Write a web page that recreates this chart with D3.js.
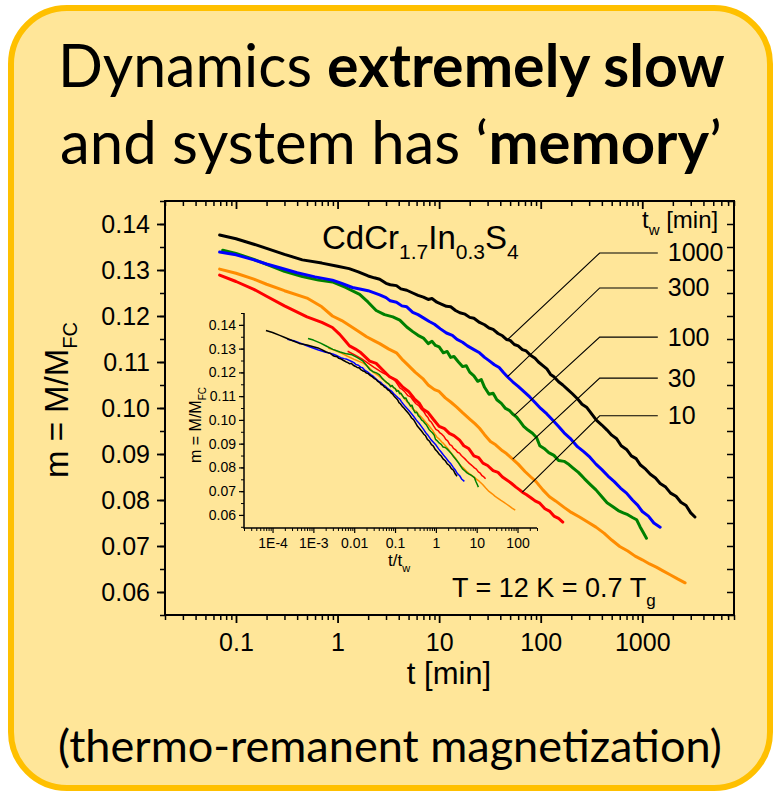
<!DOCTYPE html>
<html>
<head>
<meta charset="utf-8">
<script src="https://cdn.jsdelivr.net/npm/d3@7/dist/d3.min.js"></script>
<style>
  html, body { margin: 0; padding: 0; background: #ffffff; }
  svg { display: block; }
</style>
</head>
<body>
<script>
// ---- Data: thermo-remanent magnetization decay m(t) for several waiting times ----
const waitTimes = [1000, 300, 100, 30, 10];           // t_w [min]
const seriesColors = ["#000000", "#0000ff", "#008000", "#ff8c00", "#ff0000"];

// [t (min), m = M/M_FC]
const decayTw1000 = [
  [0.069,.1376],[0.1,.1368],[0.15,.1356],[0.2,.1347],[0.3,.1334],[0.45,.1322],[0.7,.1315],[1.0,.1308],
  [1.3,.1303],[1.6,.1296],[2.0,.1287],[2.3,.1283],[2.6,.1280],[3.0,.1271],[3.3,.1268],[3.8,.1266],
  [4.2,.1259],[4.8,.1256],[5.5,.1250],[6.2,.1245],[7.0,.1241],[7.8,.1236],[8.5,.1238],[9.5,.1230],
  [10.5,.1226],[11.8,.1221],[13,.1220],[14.5,.1212],[16,.1207],[18,.1204],[20,.1197],[22,.1195],
  [25,.1186],[28,.1181],[31,.1174],[34,.1171],[38,.1162],[42,.1157],[46,.1149],[50,.1147],[55,.1138],
  [60,.1135],[66,.1127],[72,.1124],[80,.1114],[88,.1108],[95,.1100],[105,.1092],[115,.1085],[125,.1073],
  [135,.1068],[150,.1057],[165,.1050],[185,.1040],[205,.1031],[230,.1020],[255,.1008],[285,.1001],
  [320,.0986],[355,.0973],[400,.0963],[450,.0952],[500,.0941],[560,.0933],[620,.0918],[700,.0910],
  [780,.0896],[870,.0890],[960,.0876],[1080,.0867],[1200,.0856],[1350,.0848],[1500,.0836],[1700,.0828],
  [1900,.0815],[2150,.0808],[2400,.0795],[2700,.0788],[3000,.0772],[3300,.0763]
];
const decayTw300 = [
  [0.069,.1339],[0.1,.1333],[0.15,.1322],[0.2,.1313],[0.27,.1305],[0.4,.1294],[0.6,.1285],[0.89,.1278],
  [1.1,.1271],[1.4,.1262],[1.7,.1258],[2.0,.1255],[2.6,.1246],[3.0,.1240],[3.3,.1233],[3.8,.1230],
  [4.3,.1222],[4.8,.1220],[5.5,.1208],[6.2,.1203],[7.0,.1196],[8.0,.1188],[9.0,.1182],[10.3,.1172],
  [11.8,.1163],[13.5,.1158],[15,.1149],[17,.1143],[19,.1135],[22,.1127],[25,.1120],[28,.1110],
  [31,.1103],[35,.1094],[39,.1088],[43,.1077],[47,.1068],[53,.1057],[60,.1047],[68,.1036],[78,.1024],
  [88,.1012],[100,.0999],[115,.0987],[131,.0974],[150,.0960],[170,.0946],[195,.0934],[230,.0916],
  [265,.0905],[305,.0893],[350,.0878],[400,.0866],[460,.0852],[530,.0840],[610,.0826],[700,.0815],
  [800,.0800],[900,.0789],[1000,.0775],[1150,.0765],[1300,.0750],[1500,.0741]
];
const decayTw100 = [
  [0.074,.1343],[0.1,.1336],[0.15,.1323],[0.2,.1312],[0.3,.1297],[0.45,.1286],[0.65,.1278],[0.89,.1274],
  [1.2,.1262],[1.65,.1247],[2.0,.1230],[2.4,.1212],[2.9,.1203],[3.5,.1198],[4.1,.1191],[4.8,.1176],
  [5.5,.1166],[6.2,.1158],[7.0,.1152],[7.8,.1140],[8.5,.1145],[9.2,.1136],[10,.1133],[11,.1120],
  [12,.1123],[13,.1110],[14,.1112],[15.5,.1100],[17,.1090],[18.5,.1092],[20,.1078],[22,.1070],
  [24,.1058],[26,.1062],[28,.1045],[31,.1030],[34,.1032],[37,.1018],[41,.1010],[45,.0999],[49,.0995],
  [53,.0987],[58,.0980],[62,.0972],[68,.0960],[75,.0952],[83,.0945],[91,.0936],[98,.0918],[108,.0912],
  [120,.0903],[135,.0897],[150,.0886],[170,.0884],[190,.0877],[207,.0870],[235,.0860],[270,.0846],
  [310,.0833],[350,.0822],[400,.0807],[450,.0794],[510,.0786],[580,.0777],[650,.0772],[720,.0768],
  [800,.0762],[880,.0757],[950,.0742],[1020,.0730],[1100,.0717]
];
const decayTw30 = [
  [0.069,.1302],[0.1,.1293],[0.15,.1280],[0.2,.1269],[0.3,.1255],[0.5,.1239],[0.7,.1220],[0.89,.1200],
  [1.1,.1190],[1.3,.1180],[1.6,.1167],[1.93,.1155],[2.3,.1146],[2.6,.1140],[3.2,.1128],[3.8,.1120],
  [4.4,.1104],[5.0,.1092],[5.8,.1078],[6.9,.1064],[7.8,.1050],[9.0,.1040],[10,.1036],[11.5,.1022],
  [13,.1013],[14.9,.1002],[17,.0990],[20,.0976],[22.5,.0966],[25,.0956],[28,.0942],[32,.0927],
  [36,.0920],[42,.0907],[46,.0901],[53,.0889],[60,.0878],[70,.0862],[80,.0850],[90,.0840],[105,.0822],
  [122,.0807],[140,.0798],[170,.0784],[200,.0773],[241,.0763],[290,.0752],[350,.0741],[420,.0728],
  [500,.0713],[600,.0699],[720,.0689],[850,.0678],[1000,.0670],[1180,.0661],[1375,.0654],[1600,.0646],
  [1900,.0637],[2250,.0628],[2640,.0620]
];
const decayTw10 = [
  [0.069,.1289],[0.1,.1275],[0.15,.1258],[0.2,.1243],[0.3,.1222],[0.5,.1198],[0.7,.1186],[0.89,.1175],
  [1.05,.1160],[1.2,.1145],[1.31,.1135],[1.5,.1128],[1.7,.1120],[2.07,.1102],[2.4,.1097],[2.8,.1082],
  [3.25,.1068],[3.8,.1060],[4.4,.1045],[5.0,.1036],[5.7,.1020],[6.4,.1010],[6.9,.0998],[7.8,.0990],
  [8.8,.0975],[10,.0960],[11.3,.0955],[12.6,.0945],[14,.0940],[15.9,.0930],[17.5,.0918],[19.5,.0912],
  [22,.0896],[24.5,.0892],[27,.0880],[30,.0875],[34,.0864],[38,.0860],[42,.0850],[46,.0844],[51,.0837],
  [57,.0828],[62,.0822],[66,.0817],[72,.0812],[80,.0805],[88,.0798],[98,.0793],[110,.0781],[122,.0776],
  [135,.0765],[150,.0760],[165,.0752]
];
const decaySeries = [decayTw1000, decayTw300, decayTw100, decayTw30, decayTw10];

// Tick values / labels
const mainXTicks = [0.1, 1, 10, 100, 1000];
const mainXTickLabels = ["0.1", "1", "10", "100", "1000"];
const mainYTicks = [0.06, 0.07, 0.08, 0.09, 0.10, 0.11, 0.12, 0.13, 0.14];
const mainYTickLabels = ["0.06", "0.07", "0.08", "0.09", "0.10", "0.11", "0.12", "0.13", "0.14"];
const insetXTicks = [1e-4, 1e-3, 0.01, 0.1, 1, 10, 100];
const insetXTickLabels = ["1E-4", "1E-3", "0.01", "0.1", "1", "10", "100"];

// Legend annotations: label level (m) and time where the leader meets each curve
const legendLabelM = [0.1337, 0.1261, 0.1154, 0.1065, 0.0983];
const leaderTouchT = [47, 47, 55, 53, 66];

// ---- Layout ----
const W = 777, H = 795;
const svg = d3.select("body").append("svg").attr("width", W).attr("height", H);
const chartFont = "'Liberation Sans', Arial, Helvetica, sans-serif";
const slideFont = "Lato, 'Open Sans', sans-serif";

// Rounded panel
svg.append("rect")
  .attr("x", 11).attr("y", 8).attr("width", 759).attr("height", 780)
  .attr("rx", 56).attr("ry", 56)
  .attr("fill", "#ffe699").attr("stroke", "#ffc000").attr("stroke-width", 6);

// Headline and footer, fitted to their line widths
function fittedLine(parts, x, y, width) {
  const t = svg.append("text").attr("x", x).attr("y", y)
    .attr("font-family", slideFont).attr("font-size", 60).attr("fill", "#000");
  parts.forEach(p => t.append("tspan").text(p[0]).attr("font-weight", p[1] ? 700 : 400));
  const len = t.node().getComputedTextLength();
  t.attr("font-size", 60 * width / len);
  return t;
}
fittedLine([["Dynamics ", false], ["extremely slow", true]], 58, 87, 667);
fittedLine([["and system has \u2018", false], ["memory", true], ["\u2019", false]], 60, 164, 662);
fittedLine([["(thermo-remanent magnetization)", false]], 58, 762, 664);

// ---- Main plot ----
const x = d3.scaleLog().domain([0.02, 8000]).range([165, 734]);
const y = d3.scaleLinear().domain([0.055, 0.145]).range([615, 201]);

function logMinors(scale) {
  const [a, b] = scale.domain();
  const out = [];
  for (let e = Math.floor(Math.log10(a)); e <= Math.ceil(Math.log10(b)); e++) {
    for (let k = 2; k <= 9; k++) {
      const v = k * Math.pow(10, e);
      if (v >= a && v <= b) out.push(v);
    }
  }
  return out;
}
function linMinors(scale, step) {
  const [a, b] = scale.domain();
  const out = [];
  for (let v = Math.ceil(a / step) * step; v <= b + 1e-9; v += step) out.push(+v.toFixed(4));
  return out;
}

function styleAxis(g, width) {
  g.select(".domain").remove();
  g.selectAll(".tick line").attr("stroke", "#000").attr("stroke-width", width);
  g.selectAll("text").attr("font-family", chartFont).attr("fill", "#000");
}

const axisG = svg.append("g");
const [x0, x1] = x.range(), [yb, yt] = y.range();

// Bottom axis (outward ticks)
axisG.append("g").attr("transform", `translate(0,${yb})`)
  .call(d3.axisBottom(x).tickValues(logMinors(x)).tickSize(5).tickFormat(""))
  .call(g => styleAxis(g, 1.5));
axisG.append("g").attr("transform", `translate(0,${yb})`)
  .call(d3.axisBottom(x).tickValues(mainXTicks).tickSize(8).tickPadding(10)
    .tickFormat((d, i) => mainXTickLabels[i]))
  .call(g => { styleAxis(g, 1.8); g.selectAll("text").attr("font-size", 25); });
// Top axis (inward ticks)
axisG.append("g").attr("transform", `translate(0,${yt})`)
  .call(d3.axisTop(x).tickValues(logMinors(x)).tickSize(-5).tickFormat(""))
  .call(g => styleAxis(g, 1.5));
axisG.append("g").attr("transform", `translate(0,${yt})`)
  .call(d3.axisTop(x).tickValues(mainXTicks).tickSize(-8).tickFormat(""))
  .call(g => styleAxis(g, 1.8));
// Left axis (outward ticks)
axisG.append("g").attr("transform", `translate(${x0},0)`)
  .call(d3.axisLeft(y).tickValues(linMinors(y, 0.005)).tickSize(5).tickFormat(""))
  .call(g => styleAxis(g, 1.5));
axisG.append("g").attr("transform", `translate(${x0},0)`)
  .call(d3.axisLeft(y).tickValues(mainYTicks).tickSize(8).tickPadding(7)
    .tickFormat((d, i) => mainYTickLabels[i]))
  .call(g => { styleAxis(g, 1.8); g.selectAll("text").attr("font-size", 25); });
// Right axis (inward ticks)
axisG.append("g").attr("transform", `translate(${x1},0)`)
  .call(d3.axisRight(y).tickValues(linMinors(y, 0.005)).tickSize(-7).tickFormat(""))
  .call(g => styleAxis(g, 1.5));

// Frame
axisG.append("rect").attr("x", x0).attr("y", yt).attr("width", x1 - x0).attr("height", yb - yt)
  .attr("fill", "none").attr("stroke", "#000").attr("stroke-width", 2);

// Axis titles
svg.append("text").attr("x", 449).attr("y", 684).attr("text-anchor", "middle")
  .attr("font-family", chartFont).attr("font-size", 31).text("t [min]");
const yLab = svg.append("text").attr("transform", "translate(68,478) rotate(-90)")
  .attr("font-family", chartFont).attr("font-size", 33);
yLab.append("tspan").text("m = M/M");
yLab.append("tspan").attr("font-size", 20).attr("dy", 9).text("FC");

// Compound name
const comp = svg.append("text").attr("x", 322).attr("y", 249)
  .attr("font-family", chartFont).attr("font-size", 33);
[["CdCr", 0], ["1.7", 1], ["In", 0], ["0.3", 1], ["S", 0], ["4", 1]].forEach((p, i, arr) => {
  const prevSub = i > 0 && arr[i - 1][1];
  const dy = p[1] ? 10 : (prevSub ? -10 : 0);
  comp.append("tspan").attr("font-size", p[1] ? 21 : 33).attr("dy", dy).text(p[0]);
});

// Temperature note
const tNote = svg.append("text").attr("x", 452).attr("y", 597)
  .attr("font-family", chartFont).attr("font-size", 27);
tNote.append("tspan").text("T = 12 K = 0.7 T");
tNote.append("tspan").attr("font-size", 17).attr("dy", 9).text("g");

// Legend header
const twHead = svg.append("text").attr("x", 642).attr("y", 228)
  .attr("font-family", chartFont).attr("font-size", 24);
twHead.append("tspan").text("t");
twHead.append("tspan").attr("font-size", 15).attr("dy", 7).text("w");
twHead.append("tspan").attr("dy", -7).text(" [min]");

// ---- Main curves ----
const line = d3.line().x(d => x(d[0])).y(d => y(d[1]));
const curvesG = svg.append("g");
// draw the shortest waiting time first so the longest sits on top
for (let i = decaySeries.length - 1; i >= 0; i--) {
  curvesG.append("path").datum(decaySeries[i]).attr("d", line)
    .attr("fill", "none").attr("stroke", seriesColors[i]).attr("stroke-width", 3)
    .attr("stroke-linejoin", "round").attr("stroke-linecap", "round");
}

// Legend leaders: horizontal stub then diagonal to the curve
function mAt(series, t) {
  const lt = Math.log10(t);
  for (let k = 1; k < series.length; k++) {
    const a = series[k - 1], b = series[k];
    if (t <= b[0]) {
      const f = (lt - Math.log10(a[0])) / (Math.log10(b[0]) - Math.log10(a[0]));
      return a[1] + f * (b[1] - a[1]);
    }
  }
  return series[series.length - 1][1];
}
const elbowT = 381, stubEndT = 1422, labelT = 1783;
waitTimes.forEach((tw, i) => {
  const yl = y(legendLabelM[i]);
  const tTouch = leaderTouchT[i];
  svg.append("polyline")
    .attr("points", [[x(stubEndT), yl], [x(elbowT), yl], [x(tTouch), y(mAt(decaySeries[i], tTouch))]].map(p => p.join(",")).join(" "))
    .attr("fill", "none").attr("stroke", "#000").attr("stroke-width", 1.1);
  svg.append("text").attr("x", x(labelT)).attr("y", yl + 8.5)
    .attr("font-family", chartFont).attr("font-size", 25).text(tw);
});

// ---- Inset: m versus t/t_w ----
const xi = d3.scaleLog().domain([2e-5, 300]).range([244, 537]);
const yi = d3.scaleLinear().domain([0.0545, 0.145]).range([528, 313]);
const insetG = svg.append("g");
insetG.append("g").attr("transform", `translate(0,${yi.range()[0]})`)
  .call(d3.axisBottom(xi).tickValues(logMinors(xi)).tickSize(3).tickFormat(""))
  .call(g => styleAxis(g, 1));
insetG.append("g").attr("transform", `translate(0,${yi.range()[0]})`)
  .call(d3.axisBottom(xi).tickValues(insetXTicks).tickSize(5).tickPadding(5)
    .tickFormat((d, i) => insetXTickLabels[i]))
  .call(g => { styleAxis(g, 1.2); g.selectAll("text").attr("font-size", 14); });
insetG.append("g").attr("transform", `translate(${xi.range()[0]},0)`)
  .call(d3.axisLeft(yi).tickValues(linMinors(yi, 0.005)).tickSize(3).tickFormat(""))
  .call(g => styleAxis(g, 1));
insetG.append("g").attr("transform", `translate(${xi.range()[0]},0)`)
  .call(d3.axisLeft(yi).tickValues(mainYTicks).tickSize(5).tickPadding(3)
    .tickFormat((d, i) => mainYTickLabels[i]))
  .call(g => { styleAxis(g, 1.2); g.selectAll("text").attr("font-size", 14); });
insetG.append("path")
  .attr("d", `M${xi.range()[0]},${yi.range()[1]}V${yi.range()[0]}H${xi.range()[1]}`)
  .attr("fill", "none").attr("stroke", "#000").attr("stroke-width", 1.5);

const insetLab = insetG.append("text").attr("transform", "translate(201,463) rotate(-90)")
  .attr("font-family", chartFont).attr("font-size", 16);
insetLab.append("tspan").text("m = M/M");
insetLab.append("tspan").attr("font-size", 10).attr("dy", 5).text("FC");
const insetXLab = insetG.append("text").attr("x", 388).attr("y", 566)
  .attr("font-family", chartFont).attr("font-size", 17);
insetXLab.append("tspan").text("t/t");
insetXLab.append("tspan").attr("font-size", 11).attr("dy", 6).text("w");

const insetLine = d3.line().x(d => xi(d[0])).y(d => yi(d[1]));
for (let i = decaySeries.length - 1; i >= 0; i--) {
  const scaled = decaySeries[i].map(d => [d[0] / waitTimes[i], d[1]]);
  insetG.append("path").datum(scaled).attr("d", insetLine)
    .attr("fill", "none").attr("stroke", seriesColors[i]).attr("stroke-width", 1.5)
    .attr("stroke-linejoin", "round");
}
</script>
</body>
</html>
